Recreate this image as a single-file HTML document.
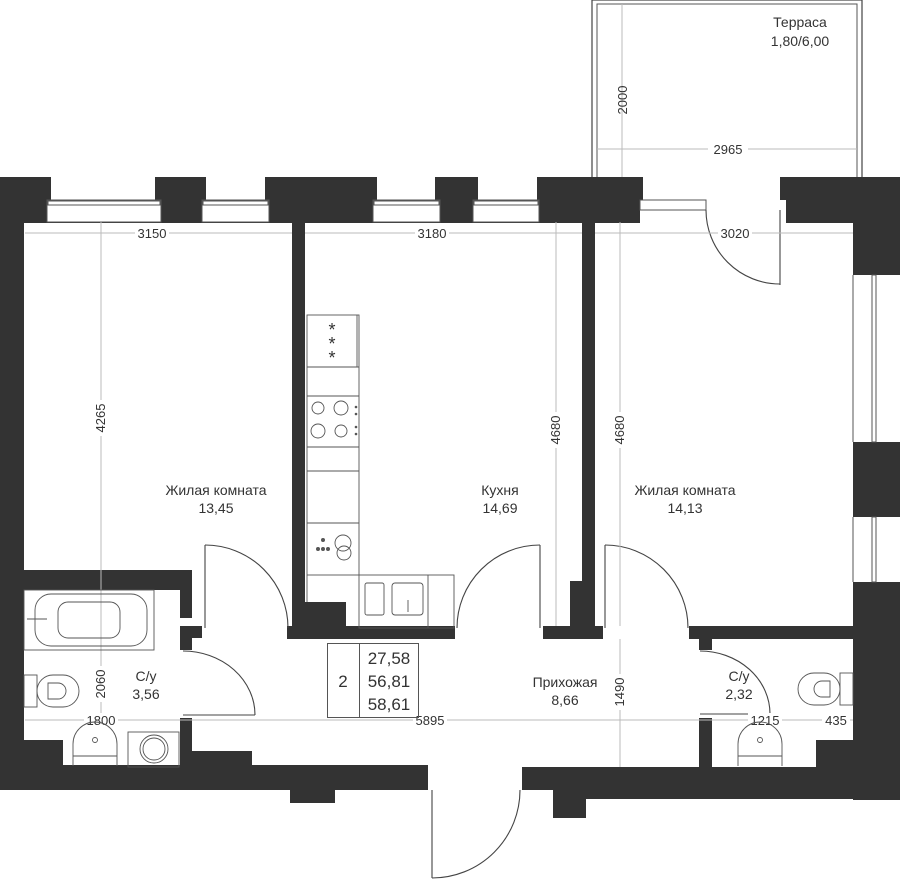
<!DOCTYPE html>
<html><head><meta charset="utf-8"><style>
html,body{margin:0;padding:0;background:#fff;width:900px;height:879px;overflow:hidden}
svg{display:block}
text{font-family:"Liberation Sans","DejaVu Sans",sans-serif;fill:#333}
</style></head><body>
<svg width="900" height="879" viewBox="0 0 900 879" xmlns="http://www.w3.org/2000/svg">
<!-- terrace -->
<rect x="592" y="0" width="270" height="180" fill="none" stroke="#444" stroke-width="1.2"/>
<rect x="597" y="4" width="260" height="176" fill="none" stroke="#555" stroke-width="1"/>
<g stroke="#bbb" stroke-width="1">
<line x1="622" y1="4" x2="622" y2="177"/>
<line x1="597" y1="149" x2="857" y2="149"/>
</g>
<text x="622" y="95" font-size="13" text-anchor="middle" transform="rotate(-90 627 95)">2000</text>
<rect x="708" y="140" width="40" height="16" fill="#fff"/>
<text x="728" y="154" font-size="13" text-anchor="middle">2965</text>
<text x="800" y="27" font-size="14" text-anchor="middle">Терраса</text>
<text x="800" y="46" font-size="14" text-anchor="middle">1,80/6,00</text>

<g fill="#333">
<rect x="0" y="177" width="900" height="46"/>
<rect x="0" y="177" width="24" height="613"/>
<rect x="853" y="177" width="47" height="623"/>
<rect x="292" y="222" width="13" height="406"/>
<rect x="295" y="602" width="51" height="26"/>
<rect x="287" y="626" width="168" height="13"/>
<rect x="582" y="222" width="13" height="406"/>
<rect x="570" y="581" width="25" height="47"/>
<rect x="543" y="626" width="60" height="13"/>
<rect x="689" y="626" width="164" height="13"/>
<rect x="699" y="638" width="13" height="12"/>
<rect x="699" y="718" width="13" height="50"/>
<rect x="0" y="570" width="192" height="20"/>
<rect x="180" y="590" width="12" height="28"/>
<rect x="180" y="626" width="22" height="12"/>
<rect x="180" y="638" width="12" height="12"/>
<rect x="180" y="718" width="12" height="50"/>
<rect x="192" y="751" width="60" height="16"/>
<rect x="0" y="740" width="63" height="27"/>
<rect x="0" y="765" width="428" height="25"/>
<rect x="290" y="790" width="45" height="13"/>
<rect x="522" y="767" width="378" height="23"/>
<rect x="553" y="790" width="347" height="9"/>
<rect x="553" y="790" width="33" height="28"/>
<rect x="816" y="740" width="37" height="27"/>
</g>
<g fill="#fff" stroke="#555" stroke-width="1">
<rect x="51" y="177" width="104" height="23" stroke="none"/>
<rect x="47" y="200" width="114" height="22"/>
<rect x="48" y="201" width="112" height="4"/>
<rect x="206" y="177" width="59" height="23" stroke="none"/>
<rect x="202" y="200" width="67" height="22"/>
<rect x="203" y="201" width="65" height="4"/>
<rect x="377" y="177" width="58" height="23" stroke="none"/>
<rect x="373" y="200" width="67" height="22"/>
<rect x="374" y="201" width="65" height="4"/>
<rect x="478" y="177" width="59" height="23" stroke="none"/>
<rect x="473" y="200" width="66" height="22"/>
<rect x="474" y="201" width="64" height="4"/>
<rect x="643" y="177" width="137" height="23" stroke="none"/>
<rect x="640" y="200" width="146" height="23" stroke="none"/>
<rect x="640" y="200" width="66" height="10"/>
<rect x="853" y="275" width="47" height="167" stroke="none"/>
<rect x="872" y="275" width="4" height="167"/>
<rect x="853" y="517" width="47" height="65" stroke="none"/>
<rect x="872" y="517" width="4" height="65"/>
</g>
<line x1="853" y1="275" x2="853" y2="442" stroke="#555"/>
<line x1="853" y1="517" x2="853" y2="582" stroke="#555"/>

<g fill="none" stroke="#444" stroke-width="1.1">
<line x1="780" y1="210" x2="780" y2="285"/>
<path d="M706 210 A74 74 0 0 0 780 284"/>
<line x1="205" y1="545" x2="205" y2="628"/>
<path d="M205 545 A83 83 0 0 1 288 628"/>
<line x1="183" y1="715" x2="255" y2="715"/>
<path d="M183 651 A72 64 0 0 1 255 715"/>
<line x1="540" y1="545" x2="540" y2="628"/>
<path d="M540 545 A83 83 0 0 0 457 628"/>
<line x1="605" y1="545" x2="605" y2="628"/>
<path d="M605 545 A83 83 0 0 1 688 628"/>
<line x1="700" y1="714" x2="770" y2="714"/>
<path d="M700 651 A70 63 0 0 1 770 714"/>
<line x1="432" y1="790" x2="432" y2="878"/>
<path d="M432 878 A88 88 0 0 0 520 790"/>
</g>

<g stroke="#bbb" stroke-width="1">
<line x1="25" y1="233" x2="292" y2="233"/>
<line x1="305" y1="233" x2="582" y2="233"/>
<line x1="595" y1="233" x2="853" y2="233"/>
<line x1="101" y1="222" x2="101" y2="610"/>
<line x1="101" y1="590" x2="101" y2="718"/>
<line x1="556" y1="222" x2="556" y2="626"/>
<line x1="620" y1="222" x2="620" y2="626"/>
<line x1="620" y1="639" x2="620" y2="767"/>
<line x1="25" y1="720" x2="853" y2="720"/>
</g>
<g fill="#fff">
<rect x="135" y="226" width="34" height="15"/><rect x="415" y="226" width="34" height="15"/><rect x="718" y="226" width="34" height="15"/>
<rect x="94" y="400" width="14" height="36"/><rect x="549" y="412" width="14" height="36"/><rect x="613" y="412" width="14" height="36"/>
<rect x="94" y="666" width="14" height="36"/><rect x="613" y="674" width="14" height="36"/>
<rect x="84" y="713" width="34" height="15"/><rect x="413" y="713" width="34" height="15"/><rect x="748" y="713" width="34" height="15"/><rect x="822" y="713" width="28" height="15"/>
</g>
<g font-size="13" text-anchor="middle">
<text x="152" y="238">3150</text><text x="432" y="238">3180</text><text x="735" y="238">3020</text>
<text x="101" y="418" transform="rotate(-90 101 418)" dy="4">4265</text>
<text x="556" y="430" transform="rotate(-90 556 430)" dy="4">4680</text>
<text x="620" y="430" transform="rotate(-90 620 430)" dy="4">4680</text>
<text x="101" y="684" transform="rotate(-90 101 684)" dy="4">2060</text>
<text x="620" y="692" transform="rotate(-90 620 692)" dy="4">1490</text>
<text x="101" y="725">1800</text><text x="430" y="725">5895</text><text x="765" y="725">1215</text><text x="836" y="725">435</text>
</g>

<g fill="none" stroke="#555" stroke-width="0.9">
<rect x="307" y="315" width="52" height="260"/>
<line x1="357" y1="315" x2="357" y2="367"/>
<line x1="307" y1="367" x2="359" y2="367"/>
<line x1="307" y1="396" x2="359" y2="396"/>
<line x1="307" y1="447" x2="359" y2="447"/>
<line x1="307" y1="471" x2="359" y2="471"/>
<line x1="307" y1="523" x2="359" y2="523"/>
<rect x="359" y="575" width="95" height="53"/>
<line x1="307" y1="575" x2="307" y2="602"/>
<line x1="428" y1="575" x2="428" y2="628"/>
<circle cx="318" cy="408" r="6"/><circle cx="341" cy="408" r="7"/>
<circle cx="318" cy="431" r="7"/><circle cx="341" cy="431" r="6"/>
<circle cx="343" cy="543" r="8"/><circle cx="344" cy="553" r="7"/>
<rect x="365" y="583" width="19" height="32" rx="2"/>
<rect x="392" y="583" width="31" height="32" rx="3"/>
<line x1="408" y1="600" x2="408" y2="612"/>
</g>
<g font-size="18" text-anchor="middle" fill="#333"><text x="332" y="336">*</text><text x="332" y="350">*</text><text x="332" y="364">*</text></g>
<g fill="#555"><circle cx="356" cy="407" r="1.3"/><circle cx="356" cy="414" r="1.3"/><circle cx="356" cy="427" r="1.3"/><circle cx="356" cy="434" r="1.3"/>
<circle cx="323" cy="540" r="2"/><circle cx="323" cy="549" r="2"/><circle cx="328" cy="549" r="2"/><circle cx="318" cy="549" r="2"/></g>

<g fill="none" stroke="#555" stroke-width="0.9">
<rect x="24" y="590" width="130" height="60"/>
<rect x="35" y="594" width="112" height="52" rx="16"/>
<rect x="58" y="602" width="62" height="36" rx="10"/>
<line x1="27" y1="619" x2="47" y2="619"/>
<rect x="24" y="675" width="13" height="32"/>
<rect x="37" y="675" width="42" height="32" rx="16"/>
<path d="M48 683 h10 a8 8 0 0 1 0 16 h-10 z"/>
<path d="M73 766 v-22 a22 22 0 0 1 44 0 v22"/>
<line x1="73" y1="756" x2="117" y2="756"/>
<circle cx="95" cy="740" r="2.5"/>
<rect x="128" y="732" width="51" height="35"/>
<circle cx="154" cy="749" r="14"/><circle cx="154" cy="749" r="11"/>
<rect x="840" y="673" width="13" height="32"/>
<rect x="798" y="673" width="42" height="32" rx="16"/>
<path d="M830 681 h-8 a8 8 0 0 0 0 16 h8 z"/>
<path d="M738 766 v-22 a22 22 0 0 1 44 0 v22"/>
<line x1="738" y1="756" x2="782" y2="756"/>
<circle cx="760" cy="740" r="2.5"/>
</g>

<g font-size="14" text-anchor="middle">
<text x="216" y="495">Жилая комната</text><text x="216" y="513">13,45</text>
<text x="500" y="495">Кухня</text><text x="500" y="513">14,69</text>
<text x="685" y="495">Жилая комната</text><text x="685" y="513">14,13</text>
<text x="565" y="687">Прихожая</text><text x="565" y="705">8,66</text>
<text x="146" y="681">С/у</text><text x="146" y="699">3,56</text>
<text x="739" y="681">С/у</text><text x="739" y="699">2,32</text>
</g>
<rect x="327.5" y="643.5" width="91" height="74" fill="none" stroke="#555"/>
<line x1="359.5" y1="643" x2="359.5" y2="718" stroke="#555"/>
<g font-size="17" text-anchor="middle">
<text x="343" y="687">2</text>
<text x="389" y="664">27,58</text><text x="389" y="687">56,81</text><text x="389" y="710">58,61</text>
</g>
</svg>
</body></html>
